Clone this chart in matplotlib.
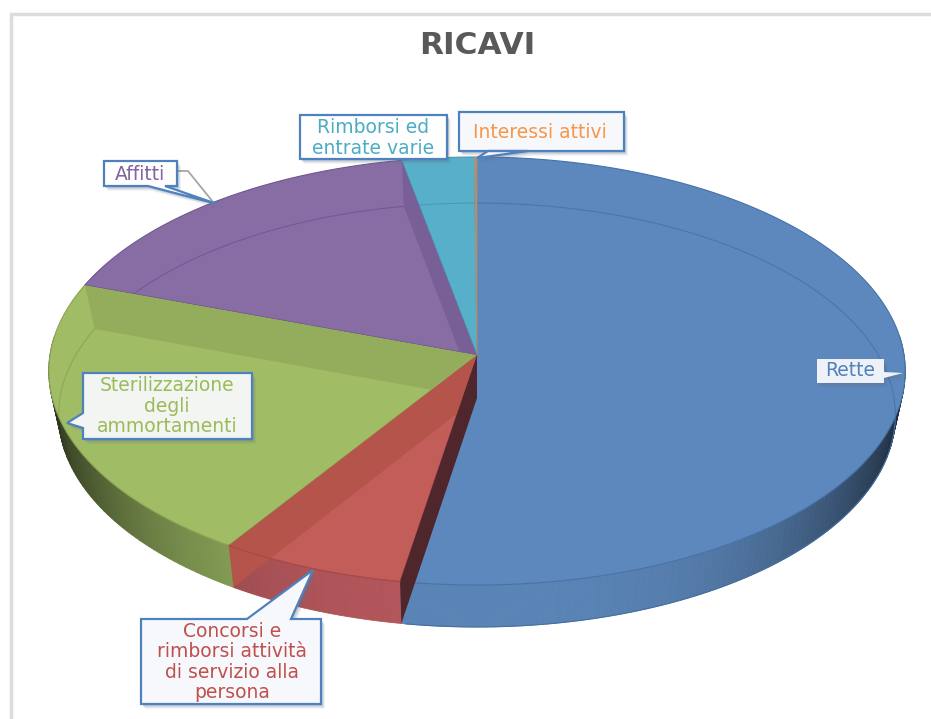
import numpy as np
import matplotlib
matplotlib.use("Agg")
import matplotlib.pyplot as plt

# --- DATA ---
TITLE = "RICAVI"
labels = ["Rette", "Concorsi e\nrimborsi attività\ndi servizio alla\npersona",
          "Sterilizzazione\ndegli\nammortamenti", "Affitti",
          "Rimborsi ed\nentrate varie", "Interessi attivi"]
values = [52.67, 6.5, 21.3, 16.5, 2.93, 0.1]  # percent

# --- STYLE ---
face_colors = ["#5C88BE", "#C25D59", "#A0BC65", "#886DA5", "#57AFC9", "#A8927A"]
side_colors = ["#5A84B6", "#B3565B", "#93AE5E", "#886DA5", "#57AFC9", "#A8927A"]
edge_colors = ["#4573A8", "#A84A48", "#8AA552", "#6F5690", "#4798B2", "#A8927A"]
wall_colors = ["#4F262C", "#B5544A", "#94AD5D", "#786097", None, None]
text_colors = ["#4F81BD", "#C0504D", "#9BBB59", "#8064A2", "#4BACC6", "#F79646"]
BORDER = "#4F81BD"

# projected disc: apex, half width, vertical scale, perspective
TOP = dict(cx=477, cy=355, X=427, a=212.8, c=0.0748)
BOTTOM = dict(cx=477, cy=398, X=417, a=210.6, c=0.0802)

# callouts: box (x0, y0, x1, y1), tail points, text centre, fill, with border
callouts = [
    dict(box=(817, 359, 884, 383), tail=[(884, 372), (903, 373), (884, 378)],
         text=(850, 371), fill="#EEF2F8", border=False),
    dict(box=(141, 619, 321, 704), tail=[(291, 619), (313, 570), (247, 619)],
         text=(232, 662), fill="#F6F8FB", border=True),
    dict(box=(83, 373, 252, 439), tail=[(83, 428), (67, 423), (83, 413)],
         text=(167, 406), fill="#F3F5F3", border=True),
    dict(box=(104, 161, 177, 186), tail=[(148, 186), (217, 204), (165, 186)],
         text=(140, 174), fill="#FFFFFF", border=True),
    dict(box=(300, 115, 447, 159), tail=None,
         text=(373, 138), fill="#FFFFFF", border=True),
    dict(box=(459, 112, 624, 151), tail=[(528, 151), (477, 158), (488, 151)],
         text=(540, 133), fill="#F6F8FB", border=True),
]
leader_x = [177, 188, 213]
leader_y = [171, 171, 202]


def project(deg, disc, r=1.0):
    # clockwise degrees from the top of the pie -> pixel position
    t = np.radians(deg)
    u, v = r * np.sin(t), r * np.cos(t)
    w = 1 + disc["c"] * v
    return disc["cx"] + disc["X"] * u / w, disc["cy"] - disc["a"] * v / w


def shade(color, deg):
    # side wall darkens towards the left and right ends
    s = abs(np.sin(np.radians(deg))) ** 3
    return tuple(ch * (1 - 0.7 * s) for ch in matplotlib.colors.to_rgb(color))


def main():
    fig = plt.figure(figsize=(9.31, 7.19), dpi=100)
    ax = fig.add_axes([0, 0, 1, 1])
    ax.set_xlim(0, 931)
    ax.set_ylim(719, 0)
    ax.axis("off")

    # page frame
    ax.plot([931, 11, 11], [14, 14, 719], color="#DCDCDC", lw=2.5, solid_joinstyle="miter")

    ends = 360 * np.cumsum(values) / np.sum(values)
    starts = np.concatenate([[0], ends[:-1]])

    # side walls, front half only
    for start, end, col in zip(starts, ends, side_colors):
        lo, hi = max(start, 85), min(end, 275)
        if hi <= lo:
            continue
        steps = np.append(np.arange(lo, hi, 1.0), hi)
        for a0, a1 in zip(steps[:-1], steps[1:]):
            xt0, yt0 = project(a0, TOP)
            xt1, yt1 = project(a1, TOP)
            xb0, yb0 = project(a0, BOTTOM)
            xb1, yb1 = project(a1, BOTTOM)
            c = shade(col, (a0 + a1) / 2)
            ax.fill([xt0, xt1, xb1, xb0], [yt0, yt1, yb1, yb0], color=c, lw=0.6, zorder=2)
    # outer line under the side wall
    ang = np.linspace(85, 275, 200)
    bx, by = project(ang, BOTTOM)
    ax.plot(bx[ang < 189.6], by[ang < 189.6], color="#44709F", lw=0.8, zorder=2)

    # top faces
    wedges = []
    for start, end, col, edge in zip(starts, ends, face_colors, edge_colors):
        ang = np.linspace(start, end, max(int(end - start) * 2, 2))
        x, y = project(ang, TOP)
        px = np.concatenate([[TOP["cx"]], x])
        py = np.concatenate([[TOP["cy"]], y])
        w = ax.fill(px, py, facecolor=col, edgecolor=edge, lw=0.8, zorder=3)[0]
        wedges.append(w)

    # far rim of the lower disc, seen through the glass top
    ang = np.linspace(-100, 100, 300)
    bx, by = project(ang, BOTTOM)
    for w, edge in zip(wedges, edge_colors):
        line = ax.plot(bx, by, color=edge, lw=0.8, alpha=0.85, zorder=4)[0]
        line.set_clip_path(w)

    # cut walls of the slices, the dark one of the first slice goes on top
    for i, (end, col) in reversed(list(enumerate(zip(ends, wall_colors)))):
        if col is None:
            continue
        xt, yt = project(end, TOP)
        xb, yb = project(end, BOTTOM)
        wall = ax.fill([TOP["cx"], xt, xb, BOTTOM["cx"]], [TOP["cy"], yt, yb, BOTTOM["cy"]],
                       color=col, lw=0, zorder=5)[0]
        if i in (2, 3):
            wall.set_clip_path(wedges[i])

    # front rim of the top face over the walls
    ang = np.linspace(ends[0], ends[1], 40)
    x, y = project(ang, TOP)
    ax.plot(x, y, color="#A84A48", lw=0.8, zorder=6)

    # callouts
    ax.plot(leader_x, leader_y, color="#A6A6A6", lw=1.3, zorder=7)
    for label, col, co in zip(labels, text_colors, callouts):
        x0, y0, x1, y1 = co["box"]
        tail = co["tail"]
        if tail is None:
            px, py = [x0, x1, x1, x0], [y0, y0, y1, y1]
        else:
            # put the tail into the box outline on the side it starts from
            px, py = [x0, x1, x1, x0], [y0, y0, y1, y1]
            if tail[0][1] == y0:
                px = [x0, tail[2][0], tail[1][0], tail[0][0], x1, x1, x0]
                py = [y0, y0, tail[1][1], y0, y0, y1, y1]
            elif tail[0][1] == y1:
                px = [x0, x1, x1, tail[2][0], tail[1][0], tail[0][0], x0]
                py = [y0, y0, y1, y1, tail[1][1], y1, y1]
            elif tail[0][0] == x0:
                px = [x0, x1, x1, x0, x0, tail[1][0], x0]
                py = [y0, y0, y1, y1, tail[0][1], tail[1][1], tail[2][1]]
            else:
                px = [x0, x1, x1, tail[1][0], x1, x1, x0]
                py = [y0, y0, tail[0][1], tail[1][1], tail[2][1], y1, y1]
        for off, alpha in zip([5, 4, 3, 2], [0.07, 0.1, 0.14, 0.18]):
            ax.fill(np.array(px) + off * 0.8, np.array(py) + off, color="#5F7590",
                    alpha=alpha, lw=0, zorder=8)
        ax.fill(px, py, facecolor=co["fill"], edgecolor=BORDER if co["border"] else "none",
                lw=1.6, zorder=9, joinstyle="miter")
        ax.text(co["text"][0], co["text"][1], label, color=col, fontsize=13.5, ha="center",
                va="center", linespacing=1.1, family="DejaVu Sans", zorder=10)

    ax.text(477, 46, TITLE, color="#595959", fontsize=22.5, fontweight="bold", ha="center",
            va="center", family="DejaVu Sans", zorder=10)

    fig.savefig("out.png", dpi=100)


if __name__ == "__main__":
    main()
